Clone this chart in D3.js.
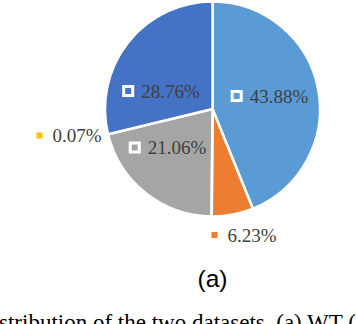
<!DOCTYPE html>
<html>
<head>
<meta charset="utf-8">
<script src="https://cdn.jsdelivr.net/npm/d3@7/dist/d3.min.js"></script>
<style>
  html, body { margin: 0; padding: 0; background: #fff; }
  svg { display: block; }
</style>
</head>
<body>
<div id="chart"></div>
<script>
// slices, clockwise from 12 o'clock
const categories = ['A', 'B', 'C', 'D', 'E'];
const shares = [43.88, 6.23, 0.07, 21.06, 28.76];
const colors = ['#5B9BD5', '#ED7D31', '#FFC000', '#A5A5A5', '#4472C4'];
const labels = ['43.88%', '6.23%', '0.07%', '21.06%', '28.76%'];

// label centres relative to pie centre (Excel "best fit" placement)
const labelOffsets = [[57, -13], [30, 126], [-145, 26.5], [-45, 38.5], [-51.5, -18]];

const W = 356, H = 324;
const cx = 212.5, cy = 109, radius = 107.5;

const svg = d3.select('#chart').append('svg')
    .attr('width', W)
    .attr('height', H);

const pie = d3.pie().sort(null).value(d => d);
const arc = d3.arc().innerRadius(0).outerRadius(radius);

const g = svg.append('g').attr('transform', `translate(${cx},${cy})`);

g.selectAll('path')
    .data(pie(shares))
    .enter().append('path')
    .attr('d', arc)
    .attr('fill', (d, i) => colors[i])
    .attr('stroke', '#fff')
    .attr('stroke-width', 2.5)
    .attr('stroke-linejoin', 'round');

// data labels: legend key + value
const box = 12, gap = 7;
labels.forEach((txt, i) => {
    const lg = g.append('g');
    const t = lg.append('text')
        .attr('font-family', '"Liberation Serif", "Times New Roman", serif')
        .attr('font-size', 19)
        .attr('fill', '#404040')
        .text(txt);
    const tw = t.node().getComputedTextLength();
    const total = box + gap + tw;
    const x0 = labelOffsets[i][0] - total / 2;
    const yc = labelOffsets[i][1];
    lg.insert('rect', 'text')
        .attr('x', x0).attr('y', yc - box / 2)
        .attr('width', box).attr('height', box)
        .attr('fill', '#fff');
    lg.insert('rect', 'text')
        .attr('x', x0 + 3).attr('y', yc - box / 2 + 3)
        .attr('width', box - 6).attr('height', box - 6)
        .attr('fill', colors[i]);
    t.attr('x', x0 + box + gap).attr('y', yc + 6.5);
});

// sub-figure caption
svg.append('text')
    .attr('x', cx)
    .attr('y', 287)
    .attr('text-anchor', 'middle')
    .attr('font-family', '"Liberation Sans", Arial, sans-serif')
    .attr('font-size', 24.5)
    .attr('fill', '#000')
    .text('(a)');

// figure caption line, cropped by the frame as in the source
svg.append('text')
    .attr('x', -24)
    .attr('y', 330)
    .attr('font-family', '"Liberation Serif", "Times New Roman", serif')
    .attr('font-size', 23)
    .attr('fill', '#000')
    .text('Distribution of the two datasets. (a) WT (');
</script>
</body>
</html>
